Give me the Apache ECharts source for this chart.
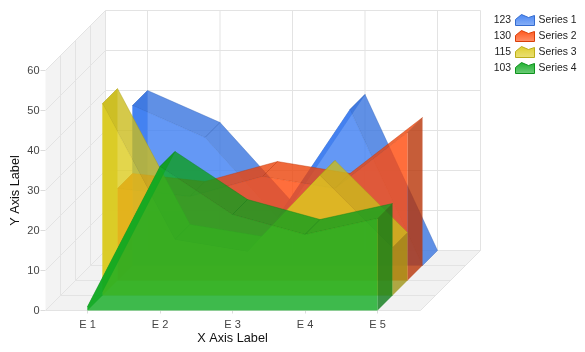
<!DOCTYPE html>
<html>
<head>
<meta charset="utf-8">
<style>html,body{margin:0;padding:0;background:#fff}#chart{width:585px;height:352px}</style>
<script src="https://cdn.jsdelivr.net/npm/echarts@6/dist/echarts.min.js"></script>
</head>
<body>
<div id="chart"></div>
<script>
const categories = ['E 1', 'E 2', 'E 3', 'E 4', 'E 5'];
const series1 = [40, 32, 12, 39, 0];
const series2 = [23, 21, 26, 23, 37];
const series3 = [48, 14, 11, 30, 12];
const series4 = [1, 36, 24, 19, 23];
const seriesNames = ['Series 1', 'Series 2', 'Series 3', 'Series 4'];
const seriesColors = [[61, 126, 242], [255, 74, 11], [220, 204, 31], [16, 171, 34]];
const allValues = [series1, series2, series3, series4];

const SLOT = 15;           // depth of one series, px
const SLOTS = allValues.length;
const ALPHA = 0.8;
const LINE = '#e3e3e3';
const iconPath = 'path://M0 11L0 5L6 0L13 3L19 1L19 11Z';

function rgba(c, k, a) {
  return 'rgba(' + c.map(v => Math.round(v * k)).join(',') + ',' + a + ')';
}

function poly(points, fill, stroke) {
  return {
    type: 'polygon',
    shape: { points: points },
    style: { fill: fill, stroke: stroke || null, lineWidth: stroke ? 1 : 0 }
  };
}

// walls, floor and grid behind everything
function renderFrame(params, api) {
  if (params.dataIndex !== 0) return null;
  const left = api.coord([0, 0])[0] - 42;
  const right = api.coord([4, 0])[0] + 43;
  const y0 = api.coord([0, 0])[1];
  const yTop = api.coord([0, 60])[1];
  const d = SLOT * SLOTS;
  const els = [];
  els.push(poly([[left, y0], [left + d, y0 - d], [left + d, yTop - d], [left, yTop]], '#f3f3f3'));
  els.push(poly([[left, y0], [right, y0], [right + d, y0 - d], [left + d, y0 - d]], '#f2f2f2'));
  const line = (a, b) => els.push({
    type: 'line',
    shape: { x1: a[0], y1: a[1], x2: b[0], y2: b[1] },
    style: { stroke: LINE, lineWidth: 1 }
  });
  for (let v = 0; v <= 60; v += 10) {
    const y = api.coord([0, v])[1];
    line([left, y], [left + d, y - d]);
    line([left + d, y - d], [right + d, y - d]);
  }
  for (let s = 0; s <= SLOTS; s++) {
    const o = s * SLOT;
    if (s > 0) line([left + o, y0 - o], [left + o, yTop - o]);
    line([left + o, y0 - o], [right + o, y0 - o]);
  }
  categories.forEach((c, i) => {
    const x = api.coord([i, 0])[0] + d;
    line([x, y0 - d], [x, yTop - d]);
  });
  line([right, y0], [right + d, y0 - d]);
  line([right + d, y0 - d], [right + d, yTop - d]);
  return { type: 'group', children: els };
}

function renderArea(idx) {
  const values = allValues[idx];
  const color = seriesColors[idx];
  const front = (SLOTS - 1 - idx) * SLOT;
  const back = front + SLOT;
  return function (params, api) {
    if (params.dataIndex !== 0) return null;
    const at = (i, v, o) => {
      const p = api.coord([i, v]);
      return [p[0] + o, p[1] - o];
    };
    const last = values.length - 1;
    const edge = rgba(color, 0.75, 0.4);
    const els = [];
    // left cap
    els.push(poly([at(0, 0, front), at(0, 0, back), at(0, values[0], back), at(0, values[0], front)], rgba(color, 0.95, ALPHA)));
    // front face
    const frontPts = [at(0, 0, front)];
    values.forEach((v, i) => frontPts.push(at(i, v, front)));
    frontPts.push(at(last, 0, front));
    // top faces
    for (let i = 0; i < last; i++) {
      els.push(poly([at(i, values[i], front), at(i, values[i], back), at(i + 1, values[i + 1], back), at(i + 1, values[i + 1], front)], rgba(color, 0.92, ALPHA), edge));
    }
    // right cap
    els.push(poly([at(last, 0, front), at(last, 0, back), at(last, values[last], back), at(last, values[last], front)], rgba(color, 0.72, ALPHA)));
    els.push(poly(frontPts, rgba(color, 1, ALPHA)));
    return { type: 'group', children: els };
  };
}

const totals = allValues.map(v => v.reduce((a, b) => a + b, 0));

const chart = echarts.init(document.getElementById('chart'), null, { renderer: 'canvas' });
const font = 'Liberation Sans';
chart.setOption({
  animation: false,
  textStyle: { fontFamily: font },
  grid: { left: 51.25, width: 362.5, top: 70.5, height: 240, outerBoundsMode: 'none' },
  xAxis: {
    type: 'category',
    data: categories,
    boundaryGap: true,
    name: 'X Axis Label',
    nameLocation: 'middle',
    nameGap: 21,
    nameMoveOverlap: false,
    nameTextStyle: { fontFamily: font, fontSize: 12.7, color: '#111' },
    axisLine: { show: false },
    axisTick: { show: true, alignWithLabel: true, length: 3, lineStyle: { color: '#dcdcdc' } },
    axisLabel: { fontFamily: font, fontSize: 11, color: '#444', margin: 9 },
    splitLine: { show: false }
  },
  yAxis: {
    type: 'value',
    min: 0,
    max: 60,
    interval: 10,
    offset: 5.75,
    name: 'Y Axis Label',
    nameLocation: 'middle',
    nameGap: 24,
    nameMoveOverlap: false,
    nameTextStyle: { fontFamily: font, fontSize: 12.7, color: '#111' },
    axisLine: { show: false },
    axisTick: { show: true, length: 5, lineStyle: { color: '#dcdcdc' } },
    axisLabel: { fontFamily: font, fontSize: 11, color: '#444', margin: 6, padding: [2, 0, 0, 0] },
    splitLine: { show: false }
  },
  legend: {
    left: 515,
    top: 14,
    padding: 0,
    orient: 'vertical',
    itemWidth: 19,
    itemHeight: 11,
    itemGap: 4,
    selectedMode: false,
    textStyle: { fontFamily: font, fontSize: 10.4, color: '#222', padding: [0, 0, 0, -1] },
    data: seriesNames.map((n, i) => ({
      name: n,
      icon: iconPath,
      itemStyle: {
        color: {
          type: 'linear', x: 0, y: 0, x2: 0, y2: 1,
          colorStops: [
            { offset: 0, color: rgba(seriesColors[i], 1, 0.95) },
            { offset: 1, color: rgba(seriesColors[i], 1, 0.6) }
          ]
        },
        borderColor: rgba(seriesColors[i], 0.85, 1),
        borderWidth: 1
      }
    }))
  },
  graphic: totals.map((t, i) => ({
    type: 'text',
    right: 74,
    top: 15 + i * 16,
    style: { text: String(t), font: '10.4px "Liberation Sans"', fill: '#222' }
  })),
  series: [{
    type: 'custom',
    name: 'frame',
    silent: true,
    renderItem: renderFrame,
    data: [[0, 0]],
    encode: { x: 0, y: 1 }
  }].concat(seriesNames.map((n, idx) => ({
    type: 'custom',
    name: n,
    silent: true,
    itemStyle: { color: rgba(seriesColors[idx], 1, 0.8) },
    renderItem: renderArea(idx),
    data: allValues[idx].map((v, i) => [i, v]),
    encode: { x: 0, y: 1 }
  })))
});
</script>
</body>
</html>
